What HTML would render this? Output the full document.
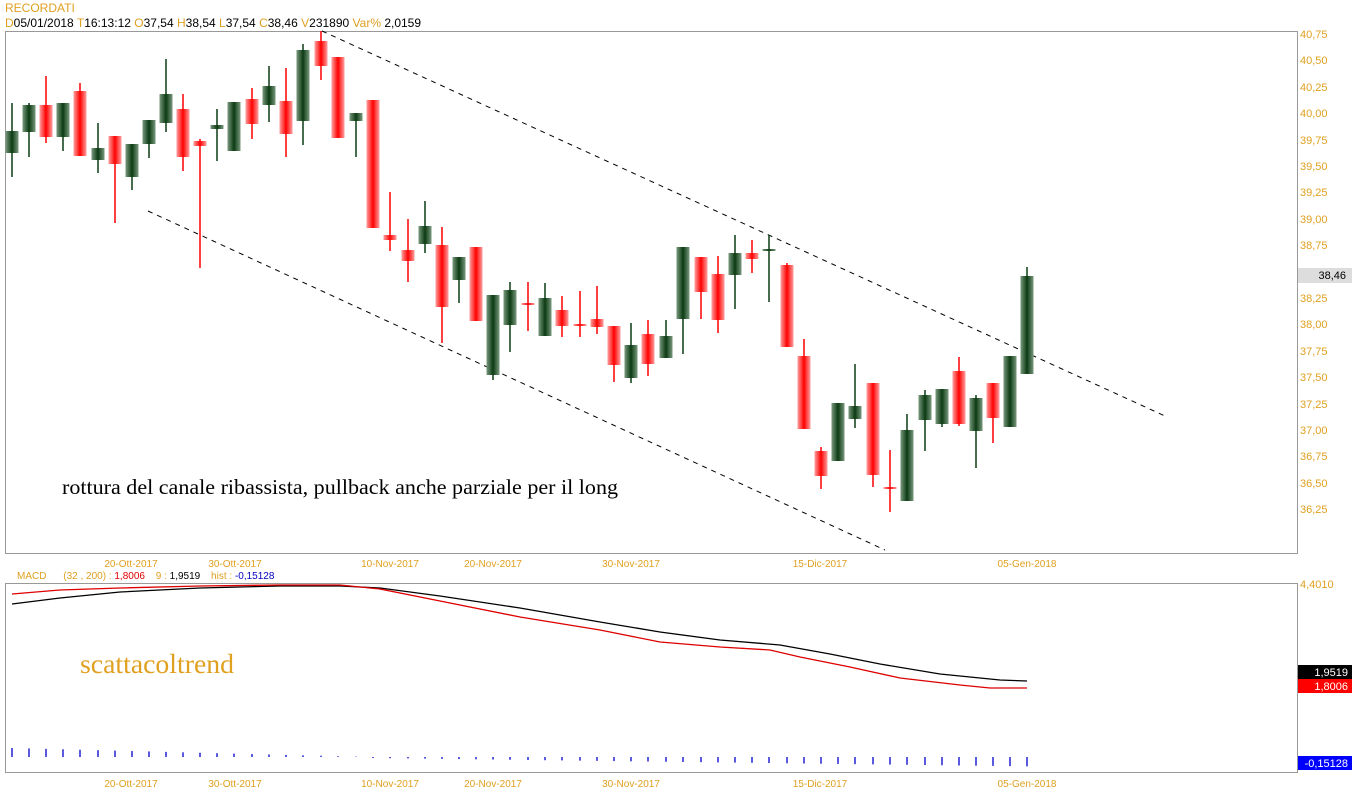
<!DOCTYPE html>
<html><head><meta charset="utf-8"><style>
body{margin:0;background:#fff;width:1352px;height:800px;overflow:hidden;font-family:"Liberation Sans",sans-serif}
</style></head><body>
<svg width="1352" height="800" xmlns="http://www.w3.org/2000/svg" font-family="Liberation Sans, sans-serif">
<defs>
<linearGradient id="g" x1="0" x2="1" y1="0" y2="0"><stop offset="0" stop-color="#7a9a7e"/><stop offset="0.5" stop-color="#0b3a12"/><stop offset="1" stop-color="#7a9a7e"/></linearGradient>
<linearGradient id="r" x1="0" x2="1" y1="0" y2="0"><stop offset="0" stop-color="#ffa0a0"/><stop offset="0.5" stop-color="#ff0000"/><stop offset="1" stop-color="#ffa0a0"/></linearGradient>
</defs>
<text x="5" y="12" font-size="12" fill="#e0a020">RECORDATI</text>
<text x="5" y="27" font-size="12" fill="#000"><tspan fill="#e0a020">D</tspan>05/01/2018 <tspan fill="#e0a020">T</tspan>16:13:12 <tspan fill="#e0a020">O</tspan>37,54 <tspan fill="#e0a020">H</tspan>38,54 <tspan fill="#e0a020">L</tspan>37,54 <tspan fill="#e0a020">C</tspan>38,46 <tspan fill="#e0a020">V</tspan>231890 <tspan fill="#e0a020">Var%</tspan> 2,0159</text>
<rect x="5.5" y="31.5" width="1292" height="522" fill="none" stroke="#999"/>
<rect x="5.5" y="583.5" width="1292" height="189" fill="none" stroke="#999"/>
<g font-size="11" fill="#e0a020">
<text x="1300" y="38">40,75</text><text x="1300" y="64">40,50</text><text x="1300" y="91">40,25</text><text x="1300" y="117">40,00</text><text x="1300" y="144">39,75</text><text x="1300" y="170">39,50</text><text x="1300" y="196">39,25</text><text x="1300" y="223">39,00</text><text x="1300" y="249">38,75</text><text x="1300" y="302">38,25</text><text x="1300" y="328">38,00</text><text x="1300" y="355">37,75</text><text x="1300" y="381">37,50</text><text x="1300" y="408">37,25</text><text x="1300" y="434">37,00</text><text x="1300" y="460">36,75</text><text x="1300" y="487">36,50</text><text x="1300" y="513">36,25</text>
<text x="1300" y="588">4,4010</text>
</g>
<rect x="1298" y="268" width="54" height="15" fill="#ddd"/><text x="1346" y="279" font-size="11" text-anchor="end" fill="#000">38,46</text>
<g font-size="10" fill="#e0a020" text-anchor="middle">
<text x="131" y="567">20-Ott-2017</text><text x="235" y="567">30-Ott-2017</text><text x="390" y="567">10-Nov-2017</text><text x="493" y="567">20-Nov-2017</text><text x="631" y="567">30-Nov-2017</text><text x="820" y="567">15-Dic-2017</text><text x="1027" y="567">05-Gen-2018</text>
<text x="131" y="787">20-Ott-2017</text><text x="235" y="787">30-Ott-2017</text><text x="390" y="787">10-Nov-2017</text><text x="493" y="787">20-Nov-2017</text><text x="631" y="787">30-Nov-2017</text><text x="820" y="787">15-Dic-2017</text><text x="1027" y="787">05-Gen-2018</text>
</g>
<text x="17" y="579" font-size="10" fill="#e0a020">MACD <tspan dx="14">(32 , 200) :</tspan> <tspan fill="#e00000">1,8006</tspan> <tspan dx="8">9 :</tspan> <tspan fill="#000">1,9519</tspan> <tspan dx="8">hist :</tspan> <tspan fill="#0000c0">-0,15128</tspan></text>
<rect x="1298" y="665" width="54" height="14" fill="#000"/><text x="1348" y="676" font-size="11" text-anchor="end" fill="#fff">1,9519</text>
<rect x="1298" y="679" width="54" height="14" fill="#f00"/><text x="1348" y="690" font-size="11" text-anchor="end" fill="#fff">1,8006</text>
<rect x="1298" y="756" width="54" height="14" fill="#00f"/><text x="1348" y="767" font-size="11" text-anchor="end" fill="#fff">-0,15128</text>
<g stroke="#000" stroke-dasharray="5,5" stroke-width="1">
<line x1="322" y1="31" x2="1165" y2="416"/><line x1="148" y1="211" x2="885" y2="550"/>
</g>
<g id="c"></g>
<text x="62" y="494" font-family="Liberation Serif, serif" font-size="21.5" fill="#000" textLength="556" lengthAdjust="spacingAndGlyphs">rottura del canale ribassista, pullback anche parziale per il long</text>
<text x="80" y="673" font-family="Liberation Serif, serif" font-size="27" fill="#e0a020" textLength="154" lengthAdjust="spacingAndGlyphs">scattacoltrend</text>
<polyline fill="none" stroke="#000" stroke-width="1.3" points="12,604 60,598 120,592 200,588 280,586 340,586 380,588 440,596 520,608 600,622 660,632 720,640 780,645 830,654 880,664 940,674 1000,680 1027,681"/>
<polyline fill="none" stroke="#d00" stroke-width="1.3" points="12,594 60,590 120,588 200,586 280,585 340,585 380,589 440,601 520,617 600,630 660,642 720,647 770,650 800,657 850,667 900,678 960,685 990,688 1027,688"/>
<g id="h" stroke="#00c" stroke-width="1.3"></g>
</svg>
<script>
var d=[[12,131,153,103,177,1],[29,105,132,103,157,1],[46,105,137,76,143,0],[63,103,137,103,151,1],[80,91,156,83,156,0],[98,148,160,123,173,1],[115,136,164,136,223,0],[132,144,177,144,190,1],[149,120,144,120,158,1],[166,94,123,59,132,1],[183,109,157,94,171,0],[200,141,146,139,268,0],[217,125,129,109,161,1],[234,102,151,102,151,1],[252,99,124,88,139,0],[269,86,105,66,122,1],[286,101,134,68,157,0],[303,50,121,44,145,1],[321,41,66,31,80,0],[338,57,138,57,138,0],[356,113,121,113,157,1],[373,100,228,100,228,0],[390,235,240,192,251,0],[408,250,261,219,282,0],[425,226,244,201,253,1],[442,245,307,227,343,0],[459,257,280,257,303,1],[476,247,321,247,321,0],[493,295,375,295,380,1],[510,290,325,282,352,1],[528,303,305,282,331,0],[545,298,336,283,336,1],[562,310,326,296,337,0],[580,324,326,291,337,0],[597,319,327,286,334,0],[614,326,365,326,382,0],[631,345,378,323,383,1],[648,334,364,320,376,0],[666,336,358,320,358,1],[683,247,319,247,354,1],[701,257,292,257,319,0],[718,274,320,256,333,0],[735,253,275,235,309,1],[752,253,259,240,273,0],[769,249,251,235,302,1],[787,265,347,263,347,0],[804,356,429,339,429,0],[821,451,476,447,489,0],[838,403,461,403,461,1],[855,406,419,364,428,1],[873,383,475,383,487,0],[890,487,489,450,512,0],[907,430,501,414,501,1],[925,395,420,390,451,1],[942,389,424,389,427,1],[959,371,424,357,426,0],[976,398,431,395,468,1],[993,383,418,383,443,0],[1010,356,427,356,427,1],[1027,276,374,267,374,1]];
var s='';
d.forEach(function(c,i){var col=c[5]?'#0b3a12':'#f00';
s+='<line x1="'+c[0]+'" x2="'+c[0]+'" y1="'+c[3]+'" y2="'+c[4]+'" stroke="'+col+'" stroke-width="1.5"/>';
var h=Math.max(c[2]-c[1],2);s+='<rect x="'+(c[0]-6.5)+'" y="'+c[1]+'" width="13" height="'+h+'" fill="url(#'+(c[5]?'g':'r')+')"/>';});
document.getElementById('c').innerHTML=s;
var hs='';d.forEach(function(c,i){var x=c[0];var v;if(i<21){v=9-i*0.43;hs+='<line x1="'+x+'" x2="'+x+'" y1="'+(757-v)+'" y2="757"/>';}else{v=(i-21)*0.22+1;hs+='<line x1="'+x+'" x2="'+x+'" y1="757" y2="'+(757+v)+'"/>';}});
document.getElementById('h').innerHTML=hs;
</script>
</body></html>
